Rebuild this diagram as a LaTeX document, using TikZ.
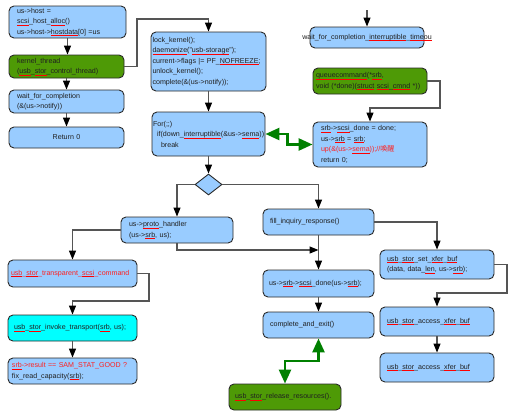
\documentclass[tikz,border=0pt]{standalone}
\usepackage{fontspec}
\setmainfont{Liberation Sans}
\newfontfamily\cjk{Noto Sans CJK SC}
\usetikzlibrary{arrows.meta,shapes.geometric,calc}
\definecolor{boxblue}{HTML}{99CCFF}
\definecolor{boxgreen}{HTML}{4E9A06}
\definecolor{boxcyan}{HTML}{00FFFF}
\definecolor{bord}{HTML}{2A2A2A}
\definecolor{lineg}{HTML}{555555}
\definecolor{txt}{HTML}{202020}
\definecolor{txtred}{HTML}{FF2020}
\definecolor{ulred}{HTML}{FF0000}
\definecolor{agreen}{HTML}{008000}
\newcommand\fs{\fontsize{7.1}{10.5}\selectfont\exhyphenpenalty=10000 \hyphenpenalty=10000 }
\newsavebox\rubox
\newcommand\ru[1]{\leavevmode\sbox\rubox{#1}\rlap{\color{ulred}\rule[-1.6pt]{\wd\rubox}{0.6pt}}\usebox\rubox}
\tikzset{
  base/.style={draw=bord, line width=0.9pt, rounded corners=5pt, font=\fs, text=txt, align=left, inner ysep=0pt},
  bluebox/.style={base, fill=boxblue},
  greenbox/.style={base, fill=boxgreen},
  cyanbox/.style={base, fill=boxcyan},
  conn/.style={draw=lineg, line width=1.2pt, -{Triangle[length=9pt,width=7pt,color=black]}},
  garrow/.style={draw=agreen, line width=2.6pt, {Triangle[length=14pt,width=12pt]}-{Triangle[length=14pt,width=12pt]}},
}
\begin{document}
\begin{tikzpicture}[x=1pt,y=-1pt]
\useasboundingbox (0,0) rectangle (518,415);
\fill[white] (0,0) rectangle (518,415);
% left column
\node[bluebox, minimum width=117pt, minimum height=32pt, inner xsep=8pt, text width=101pt] (A) at (67.5,22)
  {us->host =\\ \ru{scsi}\_host\_\ru{alloc}()\\ us->host->\ru{hostdata}[0] =us};
\node[greenbox, minimum width=115pt, minimum height=23pt, inner xsep=8pt, text width=99pt] (B) at (66.5,66.5)
  {kernel\_thread\\ (\ru{usb}\_\ru{stor}\_control\_thread)};
\node[bluebox, minimum width=115pt, minimum height=23pt, inner xsep=8pt, text width=99pt] (C) at (66.5,101.5)
  {wait\_for\_completion\\ (\&(us->notify))};
\node[bluebox, minimum width=115pt, minimum height=21pt, inner xsep=8pt, text width=99pt, align=center] (D) at (66.5,137.5)
  {Return 0};
% middle column
\node[bluebox, minimum width=115pt, minimum height=59pt, inner xsep=1.5pt, text width=112pt] (E) at (208.5,61.5)
  {lock\_kernel();\\ \ru{daemonize}("\ru{usb-storage}");\\ current->flags |= PF\_\ru{NOFREEZE};\\ unlock\_kernel();\\ complete(\&(us->notify));};
\node[bluebox, minimum width=113pt, minimum height=44pt, inner xsep=1pt, text width=111pt] (F) at (208.5,134)
  {For(;;)\\ \hspace*{4pt}if(down\_\ru{interruptible}(\&us->\ru{sema}))\\ \hspace*{8pt}break};
\node[bluebox, diamond, rounded corners=0pt, minimum width=27pt, minimum height=21pt, inner sep=0pt] (dia) at (208.5,184.5) {};
% right top column
\node[bluebox, minimum width=114pt, minimum height=21pt] (G) at (367,37.5) {};
\node[font=\fs, text=txt, inner sep=0pt] (Gtxt) at (367,37.5) {wait\_for\_completion\_\ru{interruptible}\_\ru{timeou}};
\node[greenbox, minimum width=114pt, minimum height=26pt, inner xsep=3pt, text width=108pt] (H) at (370,81)
  {\ru{queuecommand}(*\ru{srb},\\ void (*done)(\ru{struct} \ru{scsi}\_\ru{cmnd} *))};
\node[bluebox, minimum width=114pt, minimum height=45pt, inner xsep=8pt, text width=98pt] (I) at (370,144.5)
  {\ru{srb}->\ru{scsi}\_done = done;\\ us->\ru{srb} = \ru{srb};\\ {\color{txtred}up(\&(us->\ru{sema}));//{\cjk 唤醒}}\\ return 0;};
% lower part
\node[bluebox, minimum width=112pt, minimum height=26pt, inner xsep=8pt, text width=96pt] (J) at (177,230)
  {us->\ru{proto}\_handler\\ (us->\ru{srb}, us);};
\node[bluebox, minimum width=111pt, minimum height=26pt, inner xsep=7pt, text width=97pt] (K) at (318.5,222)
  {fill\_inquiry\_response()};
\node[bluebox, minimum width=129pt, minimum height=27pt, inner xsep=3pt, text width=123pt] (L) at (72.5,273.5)
  {{\color{txtred}\ru{usb}\_\ru{stor}\_transparent\_\ru{scsi}\_command}};
\node[cyanbox, minimum width=129pt, minimum height=26pt, inner xsep=6pt, text width=117pt] (M) at (72.5,328)
  {\ru{usb}\_\ru{stor}\_invoke\_transport(\ru{srb}, us);};
\node[bluebox, minimum width=129pt, minimum height=26pt, inner xsep=4pt, text width=121pt] (N) at (72.5,371)
  {{\color{txtred}\ru{srb}->result == SAM\_STAT\_GOOD ?}\\ fix\_read\_capacity(\ru{srb});};
\node[bluebox, minimum width=111pt, minimum height=27pt, inner xsep=6pt, text width=99pt] (O) at (318.5,283.5)
  {us->\ru{srb}->\ru{scsi}\_done(us->\ru{srb});};
\node[bluebox, minimum width=111pt, minimum height=26pt, inner xsep=7pt, text width=97pt] (P) at (318.5,325)
  {complete\_and\_exit()};
\node[bluebox, minimum width=114pt, minimum height=29pt, inner xsep=7pt, text width=100pt] (Q) at (437,264.5)
  {\ru{usb}\_\ru{stor}\_set\_\ru{xfer}\_\ru{buf}\\ (data, data\_\ru{len}, us->\ru{srb});};
\node[bluebox, minimum width=114pt, minimum height=29pt, inner xsep=7pt, text width=100pt] (R) at (437,321.5)
  {\ru{usb}\_\ru{stor}\_access\_\ru{xfer}\_\ru{buf}};
\node[bluebox, minimum width=114pt, minimum height=29pt, inner xsep=7pt, text width=100pt] (S) at (437,367.5)
  {\ru{usb}\_\ru{stor}\_access\_\ru{xfer}\_\ru{buf}};
\node[greenbox, minimum width=112pt, minimum height=26pt, inner xsep=6pt, text width=100pt] (T) at (285,397)
  {\ru{usb}\_\ru{stor}\_release\_resources().};
% coordinates for connector bends and free ends
\coordinate (c1) at (137,19);
\coordinate (gtop) at (367,10);
\coordinate (h1) at (440,108);
\coordinate (m) at (318.5,250);
\coordinate (l1) at (149,301);
\coordinate (q1) at (507,293);
\coordinate (pt) at (300,361);
% connectors
\draw[conn] (A.south) -- (A.south |- B.north);
\draw[conn] (B) -- (C);
\draw[conn] (C) -- (D);
\draw[conn] (B.east) -| (c1) -| (E.north);
\draw[conn] (E) -- (F);
\draw[conn] (F) -- (dia);
\draw[conn] (gtop) -- (G.north);
\draw[conn] (H.east) -| (h1) -| (I.north);
\draw[garrow] (F.east) -- ++(22,0) |- (I.west);
\draw[conn] (dia.west) -| (J.north);
\draw[conn] (dia.east) -| (K.north);
\draw[conn] (J.south) |- (m);
\draw[conn] (K) -- (O);
\draw[conn] (K.east) -| (Q.north);
\draw[conn] (J.west) -| (L.north);
\draw[conn] (L.east) -| (l1) -| (M.north);
\draw[conn] (M) -- (N);
\draw[conn] (O) -- (P);
\draw[conn] (Q.east) -| (q1) -| (R.north);
\draw[conn] (R) -- (S);
\draw[garrow] (P.south) |- (pt) -| (T.north);
\end{tikzpicture}
\end{document}
